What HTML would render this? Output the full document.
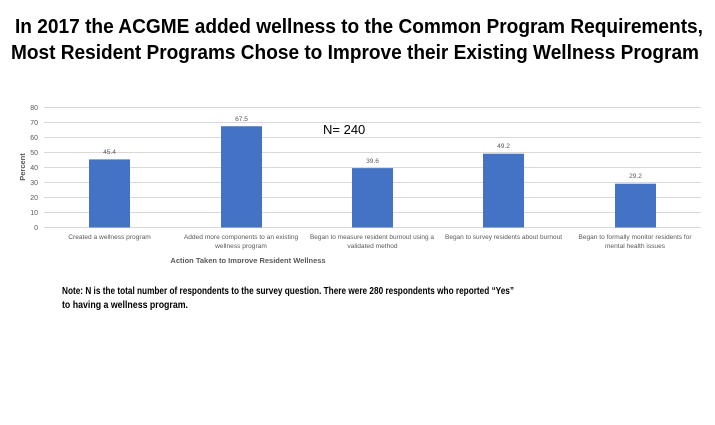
<!DOCTYPE html>
<html><head><meta charset="utf-8"><style>
html,body{margin:0;padding:0;background:#fff;}
svg{display:block;}
</style></head><body>
<svg width="715" height="425" viewBox="0 0 715 425" xmlns="http://www.w3.org/2000/svg" font-family="Liberation Sans, sans-serif">
<rect width="715" height="425" fill="#fff"/>
<g font-weight="bold" font-size="20" fill="#000">
<text x="15" y="33" textLength="688" lengthAdjust="spacingAndGlyphs">In 2017 the ACGME added wellness to the Common Program Requirements,</text>
<text x="11" y="59" textLength="688" lengthAdjust="spacingAndGlyphs">Most Resident Programs Chose to Improve their Existing Wellness Program</text>
</g>
<g stroke="#d9d9d9" stroke-width="1">
<line x1="44" x2="701" y1="107.5" y2="107.5"/>
<line x1="44" x2="701" y1="122.5" y2="122.5"/>
<line x1="44" x2="701" y1="137.5" y2="137.5"/>
<line x1="44" x2="701" y1="152.5" y2="152.5"/>
<line x1="44" x2="701" y1="167.5" y2="167.5"/>
<line x1="44" x2="701" y1="182.5" y2="182.5"/>
<line x1="44" x2="701" y1="197.5" y2="197.5"/>
<line x1="44" x2="701" y1="212.5" y2="212.5"/>
<line x1="44" x2="701" y1="227.5" y2="227.5"/>
</g>
<g font-size="7" fill="#595959" text-anchor="end">
<text x="38" y="110">80</text><text x="38" y="125">70</text><text x="38" y="140">60</text>
<text x="38" y="155">50</text><text x="38" y="170">40</text><text x="38" y="185">30</text>
<text x="38" y="200">20</text><text x="38" y="215">10</text><text x="38" y="230">0</text>
</g>
<text transform="translate(25,167) rotate(-90)" font-size="7.5" font-weight="bold" fill="#595959" text-anchor="middle">Percent</text>
<g fill="#4472c4">
<rect x="89" y="159.4" width="41" height="68.1"/>
<rect x="221" y="126.25" width="41" height="101.25"/>
<rect x="352" y="168.1" width="41" height="59.4"/>
<rect x="483" y="153.7" width="41" height="73.8"/>
<rect x="615" y="183.7" width="41" height="43.8"/>
</g>
<g font-size="6.6" fill="#595959" text-anchor="middle">
<text x="109.5" y="154">45.4</text>
<text x="241.5" y="121">67.5</text>
<text x="372.5" y="163">39.6</text>
<text x="503.5" y="148">49.2</text>
<text x="635.5" y="178">29.2</text>
<text x="109.5" y="239">Created a wellness program</text>
<text x="241" y="239">Added more components to an existing</text>
<text x="241" y="248">wellness program</text>
<text x="372" y="239" textLength="124" lengthAdjust="spacingAndGlyphs">Began to measure resident burnout using a</text>
<text x="372.5" y="248">validated method</text>
<text x="503.5" y="239" textLength="117" lengthAdjust="spacingAndGlyphs">Began to survey residents about burnout</text>
<text x="635" y="239">Began to formally monitor residents for</text>
<text x="635" y="248">mental health issues</text>
</g>
<svg x="0" y="0" width="715" height="263">
<text x="248" y="263" font-size="7.5" font-weight="bold" fill="#595959" text-anchor="middle">Action Taken to Improve Resident Wellness</text>
</svg>
<text x="323" y="134" font-size="13" fill="#000">N= 240</text>
<g font-weight="bold" font-size="10.5" fill="#000">
<text x="62" y="294" textLength="452" lengthAdjust="spacingAndGlyphs">Note: N is the total number of respondents to the survey question. There were 280 respondents who reported “Yes”</text>
<text x="62" y="308" textLength="126" lengthAdjust="spacingAndGlyphs">to having a wellness program.</text>
</g>
</svg>
</body></html>
